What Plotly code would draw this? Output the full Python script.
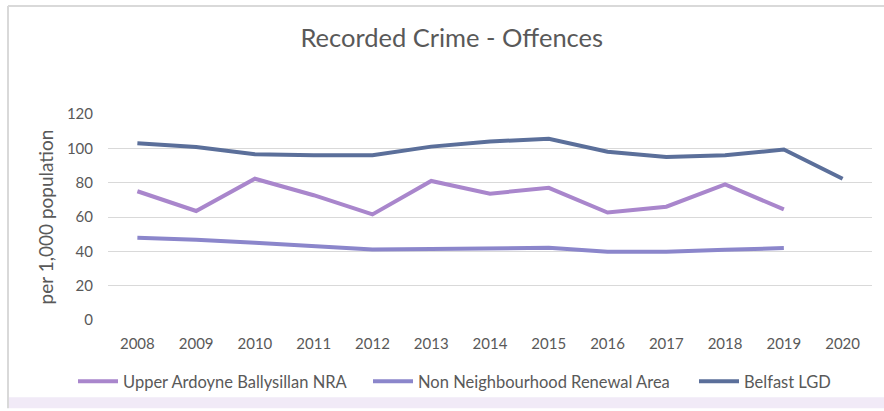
import plotly.graph_objects as go

# Recorded crime offences per 1,000 population
years = ["2008", "2009", "2010", "2011", "2012", "2013", "2014",
         "2015", "2016", "2017", "2018", "2019", "2020"]
upper_ardoyne = [75, 63.5, 82.3, 72.7, 61.5, 81, 73.6, 77, 62.6, 66, 79, 64.4, None]
non_nra = [47.9, 46.8, 45, 43.1, 41, 41.4, 42, 42.1, 39.8, 39.8, 40.9, 41.9, None]
belfast_lgd = [103, 100.8, 96.6, 96, 96, 101, 104, 105.6, 98, 95, 96, 99.3, 82.3]

series = [
    ("Upper Ardoyne Ballysillan NRA", upper_ardoyne, "#A986CC"),
    ("Non Neighbourhood Renewal Area", non_nra, "#8B86CB"),
    ("Belfast LGD", belfast_lgd, "#5B6F9A"),
]

FONT = "Lato"
GREY = "#595959"
PLOT_W, PLOT_H = 764, 208
LEFT, TOP = 108, 114

# each series gets its own legend so the entries sit where they belong
legend_px = [73, 368, 694]
legend_keys = ["legend", "legend2", "legend3"]

fig = go.Figure()
for (name, vals, colour), key in zip(series, legend_keys):
    fig.add_trace(go.Scatter(
        x=years, y=vals, name=name, mode="lines",
        line=dict(color=colour, width=4), legend=key,
    ))

legend_layout = {}
for key, px in zip(legend_keys, legend_px):
    legend_layout[key] = dict(
        orientation="h", x=(px - LEFT) / PLOT_W, xanchor="left",
        y=-(384 - TOP - PLOT_H) / PLOT_H, yanchor="middle",
        font=dict(size=16.5, color=GREY, family=FONT),
        itemwidth=40, bgcolor="rgba(0,0,0,0)", borderwidth=0,
    )

fig.update_layout(
    width=884, height=411,
    margin=dict(l=LEFT, r=884 - LEFT - PLOT_W, t=TOP, b=411 - TOP - PLOT_H),
    paper_bgcolor="white", plot_bgcolor="white",
    font=dict(family=FONT, color=GREY, size=15),
    title=dict(text="Recorded Crime - Offences", x=0.511, xanchor="center",
               y=1 - 38 / 411, yanchor="middle",
               font=dict(family=FONT, size=25.5, color=GREY)),
    xaxis=dict(type="category", range=[-0.5, 12.5], showgrid=False,
               zeroline=False, showline=False, ticks="",
               ticklabelstandoff=13, tickfont=dict(size=15, color=GREY)),
    yaxis=dict(range=[0, 120], dtick=20, showgrid=True, gridcolor="#D9D9D9",
               gridwidth=1, zeroline=False, showline=False, ticks="",
               tickfont=dict(size=15, color=GREY), ticklabelstandoff=14,
               title=dict(text="per 1,000 population", standoff=8,
                          font=dict(size=19, color=GREY))),
    showlegend=True,
    **legend_layout,
)

# chart frame: thin grey border top/left and soft lavender strip at the foot
fx0 = (8 - LEFT) / PLOT_W
fy_top = 1 + (TOP - 5) / PLOT_H
fy_bot = -(411 - TOP - PLOT_H) / PLOT_H
fig.add_shape(type="line", xref="paper", yref="paper",
              x0=fx0, x1=1.02, y0=fy_top, y1=fy_top,
              line=dict(color="#D9D9D9", width=2))
fig.add_shape(type="line", xref="paper", yref="paper",
              x0=fx0, x1=fx0, y0=fy_top, y1=fy_bot,
              line=dict(color="#D9D9D9", width=2))
fig.add_shape(type="rect", xref="paper", yref="paper",
              x0=fx0 + 1 / PLOT_W, x1=1.02, y0=fy_bot,
              y1=-(400 - TOP - PLOT_H) / PLOT_H,
              line=dict(width=0), fillcolor="#F1EAF7", layer="below")

fig.write_html("out.html")
